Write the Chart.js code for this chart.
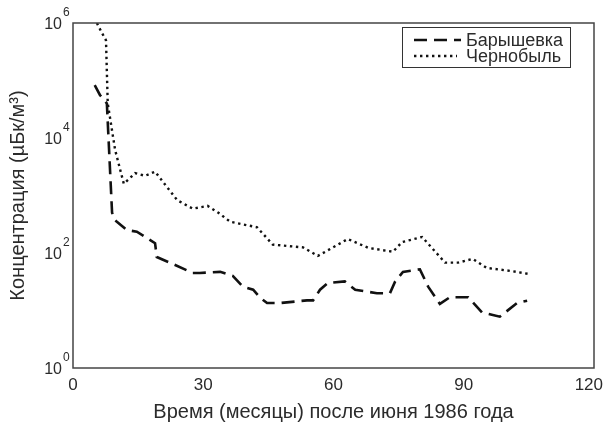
<!DOCTYPE html>
<html>
<head>
<meta charset="utf-8">
<script src="https://cdn.jsdelivr.net/npm/chart.js@4"></script>
<style>
  html, body { margin: 0; padding: 0; background: #fff; }
  #wrap { width: 606px; height: 425px; }
</style>
</head>
<body>
<div id="wrap"><canvas id="chart" width="606" height="425"></canvas></div>
<script>
// Months after June 1986 and concentration (µBq/m³)
const baryshMonths = [5.0, 6.2, 7.8, 9.0, 9.7, 12.4, 14.7, 18.9, 19.3, 22.3, 27.6, 29.2, 33.9, 36.8,
    39.1, 41.5, 43.0, 44.7, 47.7, 53.9, 55.3, 56.9, 58.7, 62.6, 65.0, 70.0, 73.0, 74.2, 76.0,
    79.9, 81.8, 84.5, 86.8, 91.0, 94.2, 98.3, 102.3, 104.6];
const baryshValues = [83000, 56000, 40000, 500, 370, 250, 235, 148, 85, 68, 45, 45, 47, 40,
    26, 23, 17, 13.5, 13.5, 15, 15, 23, 30, 32, 23, 20, 20, 32, 47,
    52, 26, 13, 17, 17, 9.3, 7.8, 13.5, 14.8];

const chernMonths = [5.5, 6.5, 7.6, 8.0, 9.7, 11.7, 14.3, 16.6, 18.9, 24.0, 27.6, 31.0, 33.5,
    36.2, 42.4, 46.0, 53.0, 56.4, 63.3, 68.0, 73.7, 75.8, 80.4, 85.7, 88.7, 92.1, 95.3,
    100.6, 105.2];
const chernValues = [1000000, 708000, 500000, 40000, 6200, 1600, 2450, 2200, 2600, 830, 590, 660, 500,
    350, 280, 140, 125, 89, 175, 123, 105, 155, 190, 68, 68, 79, 55,
    49, 43];

const seriesNames = ["Барышевка", "Чернобыль"];
const xTicks = [0, 30, 60, 90, 120];
const yTicks = [1, 100, 10000, 1000000];

const FONT = "'Liberation Sans', Arial, sans-serif";
const INK = "#2b2b2b";

function toPoints(xs, ys) {
    return xs.map((x, i) => ({ x: x, y: ys[i] }));
}

// Frame round the plot, tick labels (10^n on y) and the boxed legend
const decorPlugin = {
    id: "decor",
    afterDraw(chart) {
        const ctx = chart.ctx;
        const a = chart.chartArea;
        const xScale = chart.scales.x;
        const yScale = chart.scales.y;
        ctx.save();

        // frame
        ctx.strokeStyle = "#444";
        ctx.lineWidth = 1.5;
        ctx.setLineDash([]);
        ctx.strokeRect(a.left, a.top, a.right - a.left, a.bottom - a.top);

        ctx.fillStyle = INK;
        // x tick labels, the last one kept inside the canvas
        ctx.font = "17px " + FONT;
        ctx.textAlign = "center";
        ctx.textBaseline = "middle";
        xTicks.forEach(v => {
            const label = String(v);
            const w = ctx.measureText(label).width;
            const x = Math.min(xScale.getPixelForValue(v), chart.width - 3 - w / 2);
            ctx.fillText(label, x, a.bottom + 17);
        });

        // y tick labels as 10 with a raised exponent
        yTicks.forEach(v => {
            const y = yScale.getPixelForValue(v);
            ctx.font = "16px " + FONT;
            ctx.textAlign = "right";
            ctx.textBaseline = "middle";
            ctx.fillText("10", 62, y + 2);
            ctx.font = "12px " + FONT;
            ctx.textAlign = "left";
            ctx.fillText(String(Math.round(Math.log10(v))), 63, y - 10);
        });

        // legend
        ctx.strokeStyle = "#333";
        ctx.lineWidth = 1;
        ctx.strokeRect(402.5, 27.5, 168, 40);
        const rows = [40, 56];
        chart.data.datasets.forEach((ds, i) => {
            ctx.strokeStyle = ds.borderColor;
            ctx.lineWidth = ds.borderWidth;
            ctx.setLineDash(ds.borderDash);
            ctx.beginPath();
            ctx.moveTo(414, rows[i]);
            ctx.lineTo(i === 0 ? 461 : 457, rows[i]);
            ctx.stroke();
            ctx.setLineDash([]);
            ctx.fillStyle = INK;
            ctx.font = "18px " + FONT;
            ctx.textAlign = "left";
            ctx.textBaseline = "middle";
            ctx.fillText(ds.label, 466, rows[i] + 1);
        });
        ctx.restore();
    }
};

const ctx = document.getElementById("chart").getContext("2d");
new Chart(ctx, {
    type: "line",
    data: {
        datasets: [
            {
                label: seriesNames[0],
                data: toPoints(baryshMonths, baryshValues),
                borderColor: "#111",
                borderWidth: 2.6,
                borderDash: [13, 7],
                pointRadius: 0,
                tension: 0,
                fill: false
            },
            {
                label: seriesNames[1],
                data: toPoints(chernMonths, chernValues),
                borderColor: "#111",
                borderWidth: 2.4,
                borderDash: [2.4, 3.6],
                pointRadius: 0,
                tension: 0,
                fill: false
            }
        ]
    },
    options: {
        responsive: false,
        animation: false,
        layout: { padding: { left: 2, right: 12, top: 23, bottom: 0 } },
        plugins: {
            legend: { display: false },
            tooltip: { enabled: false }
        },
        scales: {
            x: {
                type: "linear",
                min: 0,
                max: 120,
                afterBuildTicks: s => { s.ticks = xTicks.map(v => ({ value: v })); },
                ticks: { display: false },
                grid: { display: false, drawTicks: false },
                border: { display: false },
                title: {
                    display: true,
                    text: "Время (месяцы) после июня 1986 года",
                    color: INK,
                    font: { family: FONT, size: 20 },
                    padding: { top: 4, bottom: 1 }
                },
                afterFit: s => { s.height = 57; s.paddingLeft = 0; s.paddingRight = 0; }
            },
            y: {
                type: "logarithmic",
                min: 1,
                max: 1000000,
                afterBuildTicks: s => { s.ticks = yTicks.map(v => ({ value: v })); },
                ticks: { display: false },
                grid: { display: false, drawTicks: false },
                border: { display: false },
                title: {
                    display: true,
                    text: "Концентрация (µБк/м³)",
                    color: INK,
                    font: { family: FONT, size: 20 },
                    padding: { top: 4, bottom: 4 }
                },
                afterFit: s => { s.width = 71; s.paddingTop = 0; s.paddingBottom = 0; }
            }
        }
    },
    plugins: [decorPlugin]
});
</script>
</body>
</html>
